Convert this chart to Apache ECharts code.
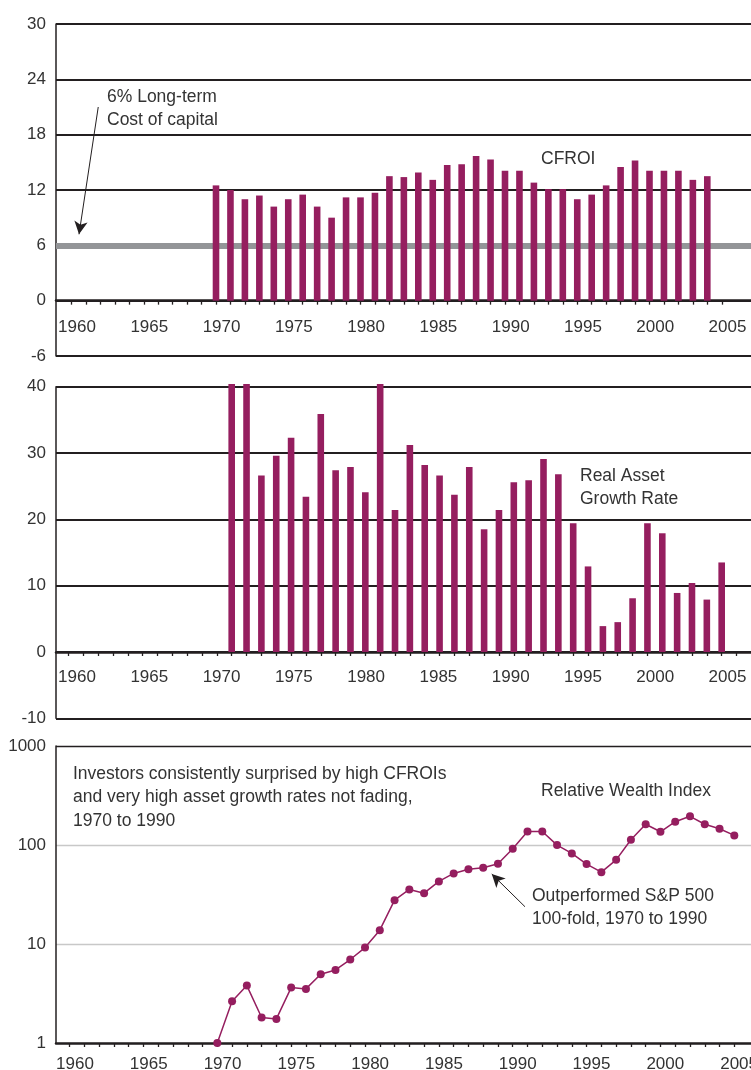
<!DOCTYPE html>
<html>
<head>
<meta charset="utf-8">
<script src="https://cdn.jsdelivr.net/npm/echarts@6/dist/echarts.min.js"></script>
<style>
  html, body { margin: 0; padding: 0; background: #fff; }
  #chart { width: 751px; height: 1070px; }
</style>
</head>
<body>
<div id="chart"></div>
<script>
// ---- data ----
const cfroiYears = [1970, 1971, 1972, 1973, 1974, 1975, 1976, 1977, 1978, 1979,
  1980, 1981, 1982, 1983, 1984, 1985, 1986, 1987, 1988, 1989,
  1990, 1991, 1992, 1993, 1994, 1995, 1996, 1997, 1998, 1999,
  2000, 2001, 2002, 2003, 2004];
const cfroi = [12.5, 12.0, 11.0, 11.4, 10.2, 11.0, 11.5, 10.2, 9.0, 11.2,
  11.2, 11.7, 13.5, 13.4, 13.9, 13.1, 14.7, 14.8, 15.7, 15.3,
  14.1, 14.1, 12.8, 12.1, 12.1, 11.0, 11.5, 12.5, 14.5, 15.2,
  14.1, 14.1, 14.1, 13.1, 13.5];
const costOfCapital = 6;

const growthYears = [1971, 1972, 1973, 1974, 1975, 1976, 1977, 1978, 1979, 1980,
  1981, 1982, 1983, 1984, 1985, 1986, 1987, 1988, 1989, 1990,
  1991, 1992, 1993, 1994, 1995, 1996, 1997, 1998, 1999, 2000,
  2001, 2002, 2003, 2004];
const growth = [40.4, 40.4, 26.6, 29.6, 32.3, 23.4, 35.9, 27.4, 27.9, 24.1,
  40.4, 21.4, 31.2, 28.2, 26.6, 23.7, 27.9, 18.5, 21.4, 25.6,
  25.9, 29.1, 26.8, 19.4, 12.9, 3.9, 4.5, 8.1, 19.4, 17.9,
  8.9, 10.4, 7.9, 13.5];

const wealthYears = [1970, 1971, 1972, 1973, 1974, 1975, 1976, 1977, 1978, 1979,
  1980, 1981, 1982, 1983, 1984, 1985, 1986, 1987, 1988, 1989,
  1990, 1991, 1992, 1993, 1994, 1995, 1996, 1997, 1998, 1999,
  2000, 2001, 2002, 2003, 2004, 2005];
const wealth = [1.0, 2.64, 3.8, 1.81, 1.75, 3.63, 3.52, 4.95, 5.47, 6.97,
  9.2, 13.8, 27.7, 35.6, 32.6, 42.9, 51.6, 57.0, 58.9, 64.6,
  91.5, 137, 137, 99.8, 82.2, 64.1, 53.2, 70.8, 113, 162,
  136, 172, 195, 162, 146, 125];

const yearTicks = [1960, 1961, 1962, 1963, 1964, 1965, 1966, 1967, 1968, 1969,
  1970, 1971, 1972, 1973, 1974, 1975, 1976, 1977, 1978, 1979,
  1980, 1981, 1982, 1983, 1984, 1985, 1986, 1987, 1988, 1989,
  1990, 1991, 1992, 1993, 1994, 1995, 1996, 1997, 1998, 1999,
  2000, 2001, 2002, 2003, 2004, 2005];
const yearLabels = [1960, 1965, 1970, 1975, 1980, 1985, 1990, 1995, 2000, 2005];

// value ranges of the two linear panels
const cfroiRange = { min: -6, max: 30, interval: 6 };
const growthRange = { min: -10, max: 40, interval: 10 };

// ---- styling ----
const PURPLE = '#951e5f';
const INK = '#231f20';
const TEXT = '#333333';
const FONT = '"Liberation Sans", Arial, sans-serif';

const grids = [
  { left: 56, top: 24, width: 695, height: 332, outerBoundsMode: 'none' },
  { left: 56, top: 386.7, width: 695, height: 331.6, outerBoundsMode: 'none' },
  { left: 56, top: 746, width: 695, height: 297, outerBoundsMode: 'none' }
];

// distance from the bottom of a panel up to its zero line
function zeroLift(grid, range) {
  return grid.height * (0 - range.min) / (range.max - range.min);
}

const chart = echarts.init(document.getElementById('chart'), null, { renderer: 'canvas' });

function markAxis(grid, min, max) {
  return {
    type: 'value', gridIndex: grid, position: 'bottom', min: min, max: max,
    axisLine: { show: true, onZero: grid !== 2, lineStyle: { color: INK, width: 2.5 } },
    axisTick: { show: true, inside: false, length: 4, customValues: yearTicks,
      lineStyle: { color: INK, width: 1.3 } },
    axisLabel: { show: false },
    splitLine: { show: false }
  };
}
function labelAxis(grid, min, max, margin, lift) {
  return {
    type: 'value', gridIndex: grid, position: 'bottom', min: min, max: max,
    offset: -lift,
    axisLine: { show: false, onZero: false },
    axisTick: { show: false },
    splitLine: { show: false },
    axisLabel: {
      show: true, customValues: yearLabels, margin: margin,
      color: TEXT, fontSize: 17, fontFamily: FONT,
      formatter: v => String(Math.round(v))
    }
  };
}
function valueYAxis(grid, range) {
  return {
    type: 'value', gridIndex: grid, min: range.min, max: range.max, interval: range.interval,
    axisLine: { show: true, onZero: false, lineStyle: { color: INK, width: 1.5 } },
    axisTick: { show: false },
    axisLabel: { margin: 10, color: TEXT, fontSize: 17, fontFamily: FONT },
    splitLine: { show: true, lineStyle: { color: INK, width: 2 } }
  };
}

const option = {
  animation: false,
  backgroundColor: '#ffffff',
  grid: grids,
  xAxis: [
    markAxis(0, 1958.927, 2007.024),
    labelAxis(0, 1958.547, 2006.624, 18, zeroLift(grids[0], cfroiRange)),
    markAxis(1, 1959.167, 2005.975),
    labelAxis(1, 1958.547, 2006.624, 17, zeroLift(grids[1], growthRange)),
    markAxis(2, 1959.08, 2006.13),
    labelAxis(2, 1958.713, 2005.806, 13, 0)
  ],
  yAxis: [
    valueYAxis(0, cfroiRange),
    valueYAxis(1, growthRange),
    {
      type: 'log', gridIndex: 2, logBase: 10, min: 1, max: 1000,
      axisLine: { show: true, onZero: false, lineStyle: { color: INK, width: 1.5 } },
      axisTick: { show: false },
      axisLabel: { margin: 10, color: TEXT, fontSize: 17, fontFamily: FONT,
        formatter: v => String(Math.round(v)) },
      splitLine: { show: true, lineStyle: { color: ['#c8c8c8', '#c8c8c8', '#c8c8c8', INK], width: 1.3 } }
    }
  ],
  series: [
    {
      name: 'CFROI', type: 'bar', xAxisIndex: 0, yAxisIndex: 0,
      data: cfroiYears.map((y, i) => [y, cfroi[i]]),
      barWidth: 6.6, itemStyle: { color: PURPLE }, z: 3, clip: false,
      markLine: {
        silent: true, z: 1, symbol: ['none', 'none'],
        label: { show: false },
        lineStyle: { color: '#939598', width: 6, type: 'solid' },
        data: [{ yAxis: costOfCapital }]
      }
    },
    {
      name: 'Cost of capital note', type: 'line', xAxisIndex: 0, yAxisIndex: 0, data: [],
      markLine: {
        silent: true, z: 6, symbol: ['none', 'arrow'], symbolSize: [10, 13],
        label: { show: false },
        lineStyle: { color: INK, width: 1, type: 'solid' },
        data: [[{ coord: [1961.85, 21.0] }, { coord: [1960.52, 7.2] }]]
      }
    },
    {
      name: 'Real Asset Growth Rate', type: 'bar', xAxisIndex: 2, yAxisIndex: 1,
      data: growthYears.map((y, i) => [y, growth[i]]),
      barWidth: 6.6, itemStyle: { color: PURPLE }, z: 3, clip: false
    },
    {
      name: 'Relative Wealth Index', type: 'line', xAxisIndex: 4, yAxisIndex: 2,
      data: wealthYears.map((y, i) => [y, wealth[i]]),
      symbol: 'circle', symbolSize: 8, showSymbol: true, clip: false,
      lineStyle: { color: PURPLE, width: 1.5 }, itemStyle: { color: PURPLE }, z: 4,
      markLine: {
        silent: true, z: 6, symbol: ['none', 'arrow'], symbolSize: [10, 13],
        label: { show: false },
        lineStyle: { color: INK, width: 1, type: 'solid' },
        data: [[{ coord: [1990.83, 23.8] }, { coord: [1988.58, 50.9] }]]
      }
    }
  ],
  graphic: [
    { type: 'text', left: 107, top: 85, z: 10,
      style: { text: '6% Long-term\nCost of capital', font: '17.5px ' + FONT, fill: TEXT, lineHeight: 23.5 } },
    { type: 'text', left: 541, top: 147, z: 10,
      style: { text: 'CFROI', font: '17.5px ' + FONT, fill: TEXT, lineHeight: 23.5 } },
    { type: 'text', left: 580, top: 464, z: 10,
      style: { text: 'Real Asset\nGrowth Rate', font: '17.5px ' + FONT, fill: TEXT, lineHeight: 23.5 } },
    { type: 'text', left: 73, top: 762, z: 10,
      style: { text: 'Investors consistently surprised by high CFROIs\nand very high asset growth rates not fading,\n1970 to 1990',
        font: '17.5px ' + FONT, fill: TEXT, lineHeight: 23.5 } },
    { type: 'text', left: 541, top: 779, z: 10,
      style: { text: 'Relative Wealth Index', font: '17.5px ' + FONT, fill: TEXT, lineHeight: 23.5 } },
    { type: 'text', left: 532, top: 884, z: 10,
      style: { text: 'Outperformed S&P 500\n100-fold, 1970 to 1990', font: '17.5px ' + FONT, fill: TEXT, lineHeight: 23.5 } }
  ]
};

chart.setOption(option);
</script>
</body>
</html>
